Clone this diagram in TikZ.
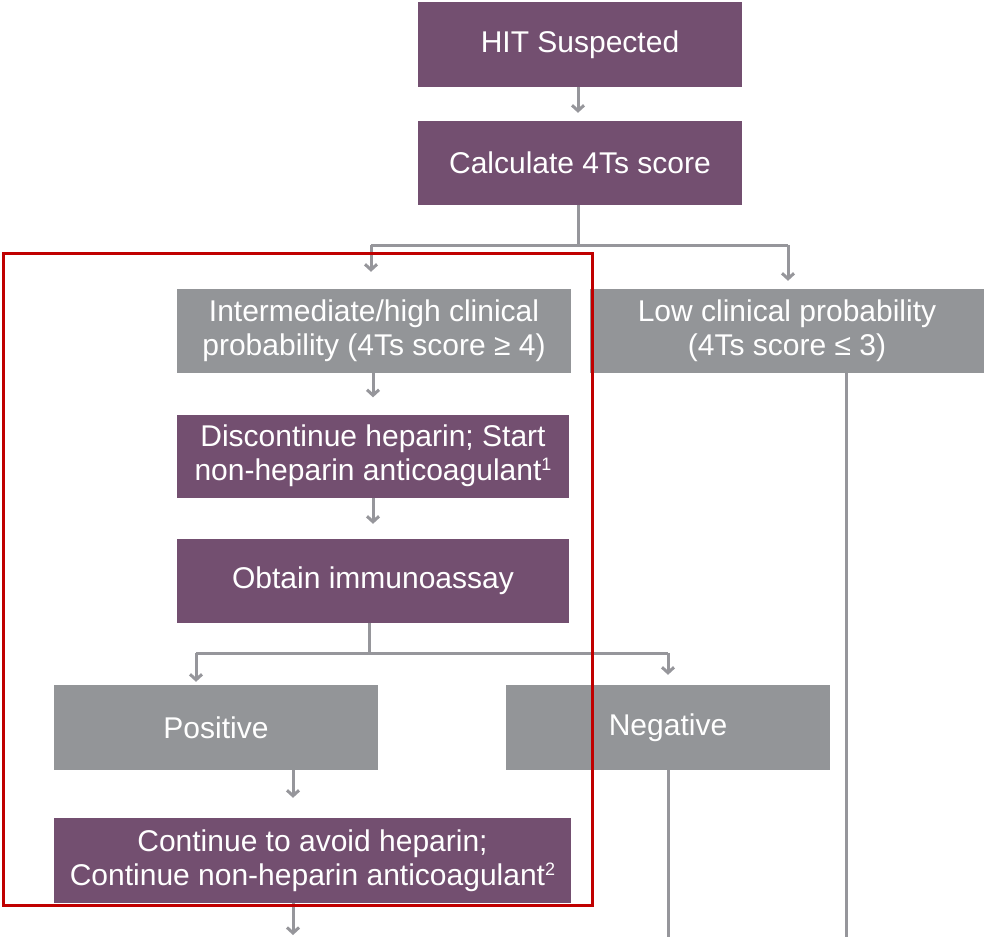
\documentclass[tikz,border=0pt]{standalone}
\usepackage{fontspec}
\setmainfont{Liberation Sans}
\usetikzlibrary{arrows.meta}
\definecolor{boxpurple}{RGB}{115,79,112}
\definecolor{boxgray}{RGB}{147,149,152}
\definecolor{linegray}{RGB}{150,150,155}
\definecolor{framered}{RGB}{192,0,0}
\newcommand{\supnum}[1]{\raisebox{10pt}{\fontsize{18}{18}\selectfont #1}}
\tikzset{
  basebox/.style={rectangle, inner sep=0pt, text=white, align=center,
    font=\fontsize{30}{34}\selectfont},
  purplebox/.style={basebox, fill=boxpurple},
  graybox/.style={basebox, fill=boxgray},
  conn/.style={draw=linegray, line width=3pt},
  arr/.style={conn, -{Straight Barb[length=5.5pt,width=12pt,line width=3pt]}},
}
\begin{document}
\begin{tikzpicture}[x=1pt,y=-1pt]
\useasboundingbox (0,0) rectangle (984,937);

\node[purplebox, minimum width=324pt, minimum height=85pt] (hit) at (580,44.5) {HIT Suspected};
\node[purplebox, minimum width=324pt, minimum height=84pt] (calc) at (580,163) {Calculate 4Ts score};
\node[graybox, minimum width=394pt, minimum height=84pt] (inter) at (374,331) {Intermediate/high clinical\\probability (4Ts score ≥ 4)};
\node[graybox, minimum width=394pt, minimum height=84pt] (low) at (787,331) {Low clinical probability\\(4Ts score ≤ 3)};
\node[purplebox, minimum width=392pt, minimum height=83pt] (disc) at (373,456) {Discontinue heparin; Start\\non-heparin anticoagulant\supnum{1}};
\node[purplebox, minimum width=392pt, minimum height=84pt] (obt) at (373,581) {Obtain immunoassay};
\node[graybox, minimum width=324pt, minimum height=85pt] (pos) at (216,727.5) {Positive};
\node[graybox, minimum width=324pt, minimum height=85pt] (neg) at (668,727.5) {Negative};
\node[purplebox, minimum width=517pt, minimum height=85pt] (cont) at (312.5,860.5) {Continue to avoid heparin;\\Continue non-heparin anticoagulant\supnum{2}};

% split points and free ends
\coordinate (s1) at (578,245);
\coordinate (s1l) at (371,245);
\coordinate (s1r) at (788,245);
\coordinate (s2) at (369,653);
\coordinate (s2l) at (196,653);
\coordinate (s2r) at (668,653);
\coordinate (endc) at (293,935);
\coordinate (endn) at (668,937);
\coordinate (endl) at (846,937);

\draw[arr, shorten >=8pt] (hit.south -| s1) -- (calc.north -| s1);
\draw[conn] (calc.south -| s1) -- (s1);
\draw[conn] (s1l) -- (s1r);
\draw[arr, shorten >=17pt] (s1l) -- (inter.north -| s1l);
\draw[arr, shorten >=8pt] (s1r) -- (low.north -| s1r);
\draw[arr, shorten >=17pt] (inter.south -| 373,0) -- (disc.north -| 373,0);
\draw[arr, shorten >=15pt] (disc.south -| 373,0) -- (obt.north -| 373,0);
\draw[conn] (obt.south -| s2) -- (s2);
\draw[conn] (s2l) -- (s2r);
\draw[arr, shorten >=3pt] (s2l) -- (pos.north -| s2l);
\draw[arr, shorten >=10pt] (s2r) -- (neg.north -| s2r);
\draw[arr, shorten >=20pt] (pos.south -| endc) -- (cont.north -| endc);
\draw[arr] (cont.south -| endc) -- (endc);
\draw[conn] (neg.south -| endn) -- (endn);
\draw[conn] (low.south -| endl) -- (endl);

% red highlight frame
\draw[framered, line width=3pt] (3.5,253.5) rectangle (592,905);
\end{tikzpicture}
\end{document}
